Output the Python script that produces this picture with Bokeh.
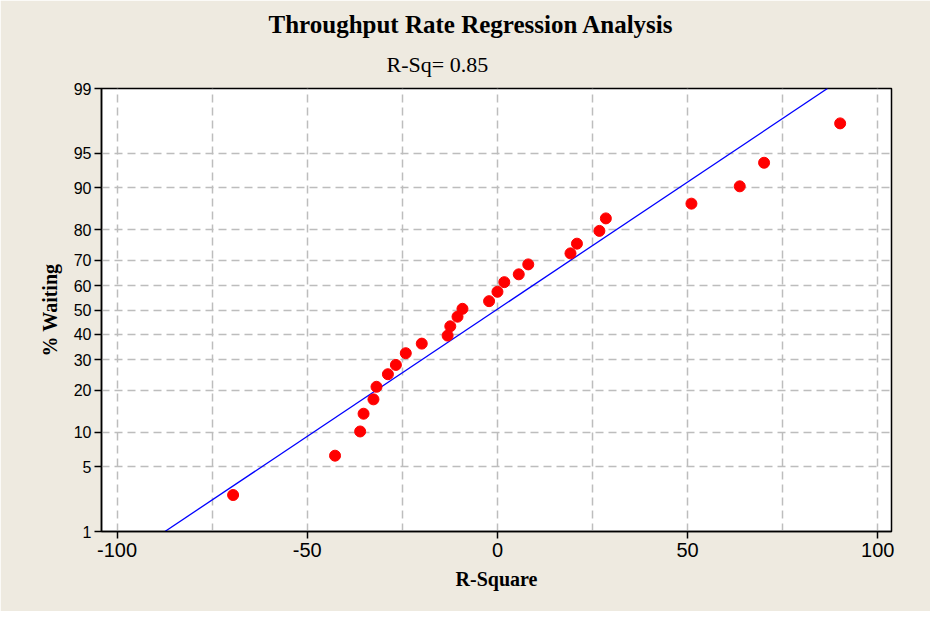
from statistics import NormalDist
import numpy as np
from bokeh.plotting import figure
from bokeh.models import FixedTicker, Title, ColumnDataSource
from bokeh.embed import file_html
from bokeh.resources import INLINE

# ---- data ----
r_square = [-69.5, -42.7, -36.1, -35.2, -32.6, -31.8, -28.8, -26.7, -24.1, -19.9,
            -13.1, -12.4, -10.5, -9.2, -2.2, 0.0, 1.8, 5.6, 8.1, 19.2,
            20.9, 26.8, 28.5, 51.0, 63.7, 70.1, 90.1]
pct_waiting = [2.6, 6.3, 10.1, 13.8, 17.4, 21.0, 25.0, 28.2, 32.5, 36.2,
               39.4, 43.2, 47.2, 50.5, 53.7, 57.6, 61.5, 64.6, 68.4, 72.4,
               75.7, 79.7, 83.2, 86.8, 90.3, 93.9, 97.5]
y_tick_pct = [1, 5, 10, 20, 30, 40, 50, 60, 70, 80, 90, 95, 99]
x_tick_vals = [-100, -50, 0, 50, 100]
x_tick_labels = ["-100", "-50", "0", "50", "100"]
x_grid_vals = [-100, -75, -50, -25, 0, 25, 50, 75, 100]
title_text = "Throughput Rate Regression Analysis"
subtitle_text = "R-Sq= 0.85"
x_label = "R-Square"
y_label = "% Waiting"

nd = NormalDist()
def probit(p):
    return nd.inv_cdf(p / 100.0)

z_pts = [probit(v) for v in pct_waiting]
z_lo, z_hi = probit(y_tick_pct[0]), probit(y_tick_pct[-1])

# fitted normal line from the data
mu = float(np.mean(r_square))
sd = float(np.std(r_square, ddof=1))
line_z = [z_lo, z_hi]
line_x = [mu + sd * z for z in line_z]

BG = "#EEEAE0"
p = figure(width=930, height=611, output_backend="svg", toolbar_location=None,
           x_range=(-104.1, 103.6), y_range=(z_lo, z_hi),
           min_border_left=101, min_border_right=39, min_border_top=88, min_border_bottom=80,
           background_fill_color="white", border_fill_color=BG)

p.outline_line_color = "black"
p.outline_line_width = 1.5

# titles (subtitle first so it sits nearer the frame)
sub = Title(text=subtitle_text, align="left", offset=285, text_font="Liberation Serif",
            text_font_size="22px", text_font_style="normal", text_color="black", standoff=24)
p.add_layout(sub, "above")
ttl = Title(text=title_text, align="left", offset=167, text_font="Liberation Serif",
            text_font_size="25px", text_font_style="bold", text_color="black", standoff=0)
p.add_layout(ttl, "above")

# grids
p.xgrid.ticker = FixedTicker(ticks=x_grid_vals)
p.ygrid.ticker = FixedTicker(ticks=[probit(v) for v in y_tick_pct])
for g in (p.xgrid, p.ygrid):
    g.grid_line_color = "#BDBDBD"
    g.grid_line_dash = "8 5"
    g.grid_line_width = 1.5

# axes
p.xaxis.ticker = FixedTicker(ticks=x_tick_vals)
p.xaxis.major_label_overrides = dict(zip(x_tick_vals, x_tick_labels))
p.yaxis.ticker = FixedTicker(ticks=[probit(v) for v in y_tick_pct])
p.yaxis.major_label_overrides = {probit(v): str(v) for v in y_tick_pct}
for ax in (p.xaxis, p.yaxis):
    ax.axis_line_color = "black"
    ax.axis_line_width = 1.5
    ax.major_tick_line_color = "black"
    ax.major_tick_line_width = 1.5
    ax.major_tick_out = 7
    ax.major_tick_in = 0
    ax.minor_tick_line_color = None
    ax.major_label_text_font = "Liberation Sans"
    ax.major_label_text_color = "black"
    ax.axis_label_text_font = "Liberation Serif"
    ax.axis_label_text_font_style = "bold"
    ax.axis_label_text_font_size = "20px"
    ax.axis_label_text_color = "black"
p.xaxis.major_label_text_font_size = "20px"
p.yaxis.major_label_text_font_size = "16px"
p.xaxis.major_label_standoff = 4
p.yaxis.major_label_standoff = 3
p.xaxis.axis_label = x_label
p.yaxis.axis_label = y_label
p.xaxis.axis_label_standoff = 8
p.yaxis.axis_label_standoff = 10

p.line(line_x, line_z, line_color="#0000FF", line_width=1.3)
src = ColumnDataSource(dict(x=r_square, z=z_pts))
p.scatter("x", "z", source=src, size=11, fill_color="#FF0000", line_color="#FF0000")

open("out.html", "w").write(file_html(p, INLINE))
